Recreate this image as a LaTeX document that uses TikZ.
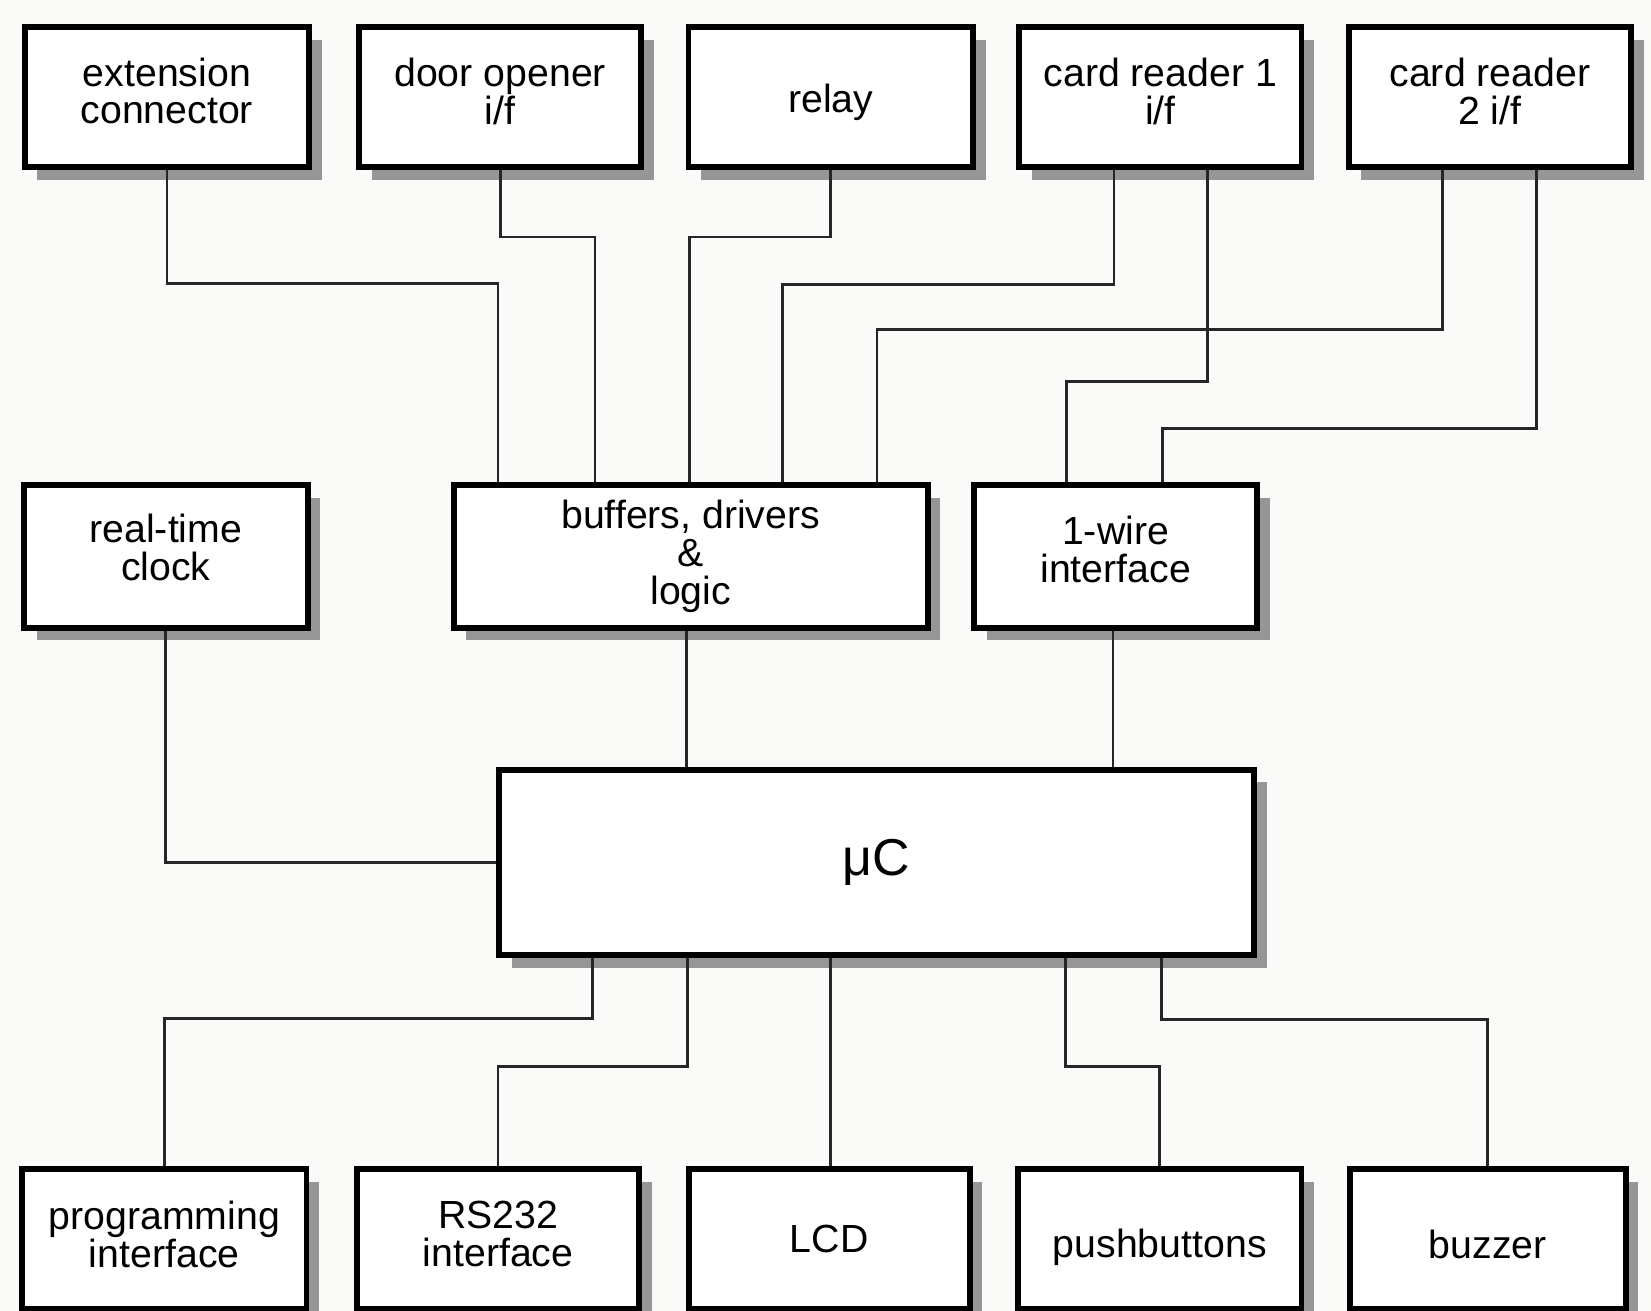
\documentclass[tikz,border=0pt]{standalone}
\usepackage{fontspec}
\setmainfont{Liberation Sans}
\usetikzlibrary{shadows}
\definecolor{bg}{RGB}{250,250,248}
\definecolor{shd}{RGB}{150,150,150}
\begin{document}
\begin{tikzpicture}[x=0.01cm,y=-0.01cm,
  blk/.style={draw=black, line width=1.6pt, fill=white, inner sep=0pt, align=center,
    minimum height=1.33cm,
    font=\fontsize{10.6}{10.2}\selectfont,
    drop shadow={shadow xshift=0.12cm, shadow yshift=-0.12cm, fill=shd, opacity=1}},
  wire/.style={draw=black!85, line width=0.75pt}]
\fill[bg] (0,0) rectangle (1568,1245);
\useasboundingbox (0,0) rectangle (1568,1245);
% top row
\node[blk, minimum width=2.70cm, text depth=3.6pt] (ext)   at (158.5,92.5) {extension\\connector};
\node[blk, minimum width=2.68cm, text depth=3.2pt] (door)  at (475,92.5)   {door opener\\i/f};
\node[blk, minimum width=2.70cm, text height=8.3pt, text depth=0pt] (relay) at (789,92.5) {relay};
\node[blk, minimum width=2.68cm, text depth=3.2pt] (cr1)   at (1102,92.5)  {card reader 1\\i/f};
\node[blk, minimum width=2.68cm, text depth=3.2pt] (cr2)   at (1415,92.5)  {card reader\\2 i/f};
% middle row
\node[blk, minimum width=2.69cm, minimum height=1.35cm, text depth=5pt] (rtc) at (157.5,528.5) {real-time\\clock};
\node[blk, minimum width=4.50cm, minimum height=1.35cm] (buf) at (656,528.5) {buffers, drivers\\\&\\logic};
\node[blk, minimum width=2.69cm, minimum height=1.35cm, text depth=4pt] (ow)  at (1059.5,528.5) {1-wire\\interface};
% uC
\node[blk, minimum width=7.17cm, minimum height=1.76cm, font=\fontsize{14}{14}\selectfont] (uc) at (832.5,819) {μC};
% bottom row
\node[blk, minimum width=2.70cm, text depth=2.8pt] (prog) at (156,1177)    {programming\\interface};
\node[blk, minimum width=2.68cm, text depth=2.8pt] (rs)   at (473,1177)    {RS232\\interface};
\node[blk, minimum width=2.67cm] (lcd)  at (787.5,1177)  {LCD};
\node[blk, minimum width=2.69cm, text height=10pt, text depth=0pt] (push) at (1101.5,1177) {pushbuttons};
\node[blk, minimum width=2.62cm, text height=10.5pt, text depth=0pt] (buzz) at (1413,1177)   {buzzer};
% connectors top
\draw[wire] (ext.south) |- (473,269) -- (buf.north -| 473,0);
\draw[wire] (door.south) |- (565,225) -- (buf.north -| 565,0);
\draw[wire] (relay.south) |- (655,225) -- (buf.north -| 655,0);
\draw[wire] (cr1.south -| 1058,0) |- (743,270) -- (buf.north -| 743,0);
\draw[wire] (cr1.south -| 1147,0) |- (1013,362) -- (ow.north -| 1013,0);
\draw[wire] (cr2.south -| 1370,0) |- (833,313) -- (buf.north -| 833,0);
\draw[wire] (cr2.south -| 1459,0) |- (1104,407) -- (ow.north -| 1104,0);
% middle
\draw[wire] (rtc.south) |- (uc.west);
\draw[wire] (buf.south -| 652,0) -- (uc.north -| 652,0);
\draw[wire] (ow.south -| 1057,0) -- (uc.north -| 1057,0);
% bottom
\draw[wire] (uc.south -| 563,0) -- (563,967) -| (prog.north);
\draw[wire] (uc.south -| 653,0) -- (653,1013) -| (rs.north);
\draw[wire] (uc.south -| 789,0) -- (lcd.north -| 789,0);
\draw[wire] (uc.south -| 1012,0) -- (1012,1013) -| (push.north);
\draw[wire] (uc.south -| 1103,0) -- (1103,968) -| (buzz.north);
\end{tikzpicture}
\end{document}
